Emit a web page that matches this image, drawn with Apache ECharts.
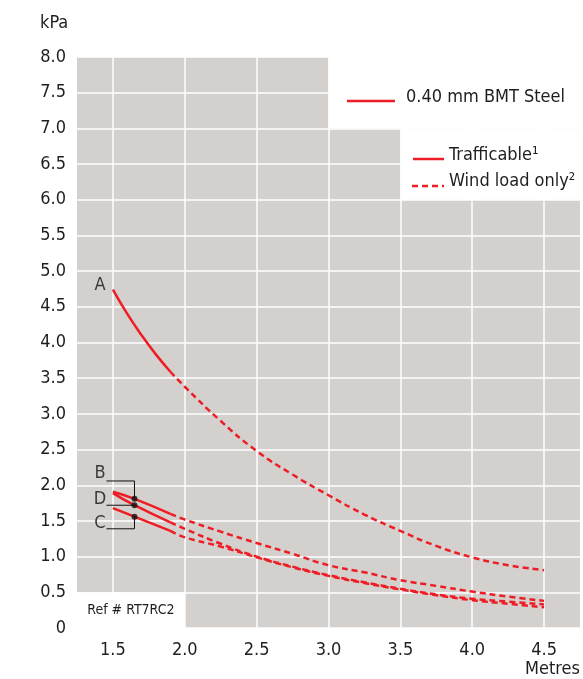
<!DOCTYPE html>
<html><head><meta charset="utf-8">
<script src="https://cdn.jsdelivr.net/npm/echarts@6/dist/echarts.min.js"></script>
<style>html,body{margin:0;padding:0;background:#fff;overflow:hidden}#c{width:583px;height:679px}</style>
</head><body><div id="c"></div>
<script>
const FONT = "'Liberation Sans Narrow','DejaVu Sans Condensed','Roboto Condensed',Roboto,sans-serif";
const RED = '#ee1d25';
const INK = '#1e1e1e';

// Curve A (solid = trafficable, dashed = wind load only)
const xSolidA = [1.5, 1.6, 1.7, 1.8, 1.9];
const aSolid  = [4.74, 4.40, 4.10, 3.83, 3.59];
const xDash   = [1.9, 2.0, 2.25, 2.5, 2.75, 3.0, 3.25, 3.5, 3.75, 4.0, 4.25, 4.5];
const aDash   = [3.59, 3.38, 2.90, 2.48, 2.15, 1.86, 1.59, 1.36, 1.15, 0.99, 0.88, 0.81];
// Curves B, D, C
const xShort  = [1.5, 1.65, 1.9];
const bSolid  = [1.91, 1.81, 1.60];
const dSolid  = [1.89, 1.72, 1.48];
const cSolid  = [1.68, 1.56, 1.36];
const bDash   = [1.60, 1.52, 1.35, 1.19, 1.04, 0.88, 0.78, 0.67, 0.59, 0.51, 0.44, 0.38];
const dDash   = [1.48, 1.39, 1.18, 1.00, 0.86, 0.74, 0.64, 0.55, 0.47, 0.41, 0.37, 0.33];
const cDash   = [1.36, 1.27, 1.14, 0.99, 0.85, 0.73, 0.63, 0.54, 0.46, 0.39, 0.34, 0.29];
// marker dots and brackets
const dotX = 1.65;
const dotY = [1.81, 1.72, 1.56];
const bracketB = [[1.455, 2.06], [1.65, 2.06], [1.65, 1.81]];
const bracketD = [[1.455, 1.72], [1.65, 1.72]];
const bracketC = [[1.455, 1.39], [1.65, 1.39], [1.65, 1.56]];
const curveLabels = [['A', 1.41, 4.80], ['B', 1.41, 2.17], ['D', 1.41, 1.80], ['C', 1.41, 1.47]];
// axis
const xMin = 1.25, xMax = 4.75, yMin = 0, yMax = 8;

const zip = (xs, ys) => xs.map((x, i) => [x, ys[i]]);

const solid = (data) => ({
  type: 'line', data, smooth: true, symbol: 'none', z: 3, silent: true,
  lineStyle: { color: RED, width: 2.5 }
});
const dashed = (data) => ({
  type: 'line', data, smooth: true, symbol: 'none', z: 3, silent: true,
  lineStyle: { color: RED, width: 2.5, type: [6, 4] }
});
const bracket = (data) => ({
  type: 'line', data, symbol: 'none', z: 4, silent: true,
  lineStyle: { color: '#111', width: 1 }
});

const chart = echarts.init(document.getElementById('c'), null, { renderer: 'canvas', width: 583, height: 679 });
chart.setOption({
  animation: false,
  backgroundColor: '#fff',
  textStyle: { fontFamily: FONT },
  grid: { left: 77, right: 0, top: 57, bottom: 51, show: true, backgroundColor: '#d4d0cd', borderWidth: 0 },
  xAxis: {
    type: 'value', min: xMin, max: xMax, interval: 0.25,
    axisLine: { show: false }, axisTick: { show: false },
    axisLabel: {
      fontSize: 18, color: INK, fontFamily: FONT, margin: 13,
      formatter: v => (Math.abs(v * 2 - Math.round(v * 2)) < 1e-6 && v >= 1.5 && v <= 4.5) ? v.toFixed(1) : ''
    },
    splitLine: { show: true, showMinLine: true, showMaxLine: true, lineStyle: { color: ['rgba(0,0,0,0)', '#ffffff'], width: 1.5 } }
  },
  yAxis: {
    type: 'value', min: yMin, max: yMax, interval: 0.5,
    axisLine: { show: false }, axisTick: { show: false },
    axisLabel: { fontSize: 18, color: INK, fontFamily: FONT, margin: 11, formatter: v => v === 0 ? '0' : v.toFixed(1) },
    splitLine: { show: true, lineStyle: { color: '#ffffff', width: 1.5 } }
  },
  series: [
    {
      type: 'line', data: [], z: 2, silent: true,
      markArea: {
        silent: true,
        itemStyle: { color: '#ffffff' },
        data: [
          [{ coord: [3.0, 8.0] }, { coord: [xMax, 7.0] }],
          [{ coord: [3.5, 7.0] }, { coord: [xMax, 6.0] }],
          [{ coord: [xMin, 0.5], label: { show: true, position: 'inside', formatter: 'Ref # RT7RC2', fontSize: 14, color: INK, fontFamily: FONT } },
           { coord: [2.0, 0] }]
        ],
        label: { show: false }
      }
    },
    solid(zip(xSolidA, aSolid)),
    dashed(zip(xDash, aDash)),
    solid(zip(xShort, bSolid)),
    solid(zip(xShort, dSolid)),
    solid(zip(xShort, cSolid)),
    dashed(zip(xDash, bDash)),
    dashed(zip(xDash, dDash)),
    dashed(zip(xDash, cDash)),
    bracket(bracketB),
    bracket(bracketD),
    bracket(bracketC),
    {
      type: 'scatter', z: 5, silent: true, symbolSize: 6,
      itemStyle: { color: '#111' },
      data: dotY.map(y => [dotX, y])
    },
    {
      type: 'scatter', z: 5, silent: true, symbolSize: 1,
      itemStyle: { color: 'rgba(0,0,0,0)' },
      label: { show: true, position: 'inside', formatter: p => p.data.name, fontSize: 18, color: '#111', fontFamily: FONT },
      data: curveLabels.map(l => ({ name: l[0], value: [l[1], l[2]] }))
    }
  ],
  graphic: [
    { type: 'text', z: 100, left: 40, top: 14, style: { text: 'kPa', fontSize: 18, fontFamily: FONT, fill: INK } },
    { type: 'text', z: 100, right: 3, top: 660, style: { text: 'Metres', fontSize: 18, fontFamily: FONT, fill: INK } },
    { type: 'line', z: 100, shape: { x1: 347, y1: 101, x2: 395, y2: 101 }, style: { stroke: RED, lineWidth: 2.5 } },
    { type: 'text', z: 100, x: 406, y: 97, style: { text: '0.40 mm BMT Steel', fontSize: 18, fontFamily: FONT, fill: INK, verticalAlign: 'middle' } },
    { type: 'line', z: 100, shape: { x1: 413, y1: 159, x2: 444, y2: 159 }, style: { stroke: RED, lineWidth: 2.5 } },
    { type: 'text', z: 100, x: 449, y: 155, style: { text: 'Trafficable\u00B9', fontSize: 18, fontFamily: FONT, fill: INK, verticalAlign: 'middle' } },
    { type: 'line', z: 100, shape: { x1: 412, y1: 186, x2: 444, y2: 186 }, style: { stroke: RED, lineWidth: 2.5, lineDash: [6, 4] } },
    { type: 'text', z: 100, x: 449, y: 181, style: { text: 'Wind load only\u00B2', fontSize: 18, fontFamily: FONT, fill: INK, verticalAlign: 'middle' } }
  ]
});
</script></body></html>
